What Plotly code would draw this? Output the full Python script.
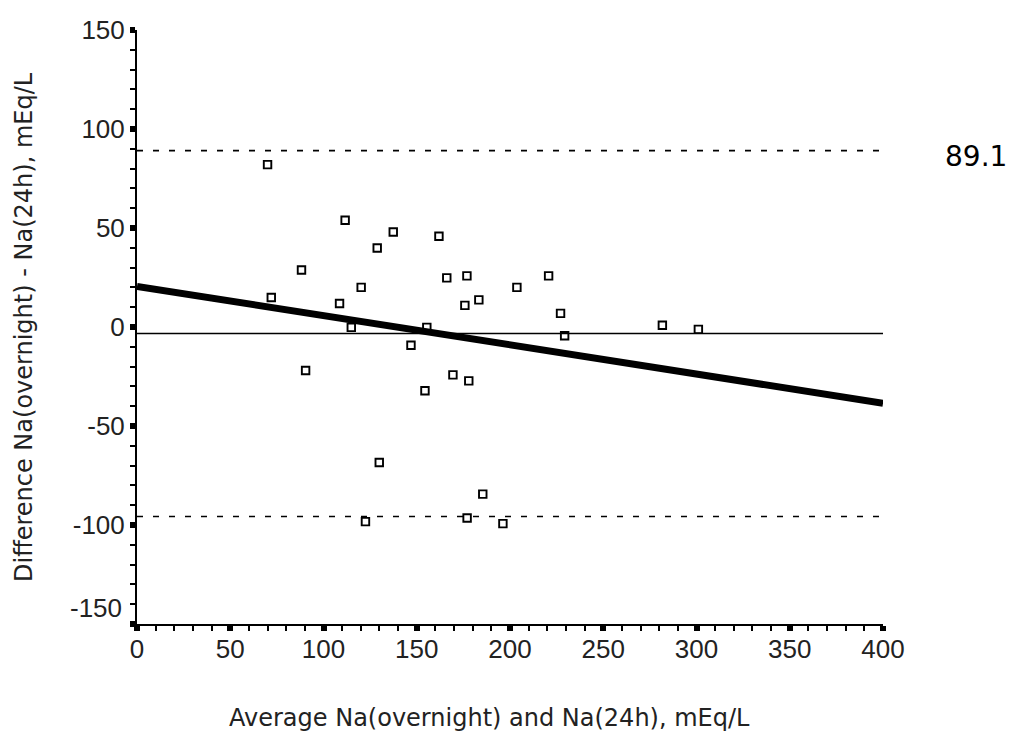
import plotly.graph_objects as go

# Data (Bland-Altman style plot)
avg_na = [70.0, 111.6, 137.4, 128.8, 161.9, 88.2, 120.2, 72.0, 108.6, 166.1,
          176.9, 175.8, 183.3, 203.7, 220.7, 227.1, 229.3, 114.9, 155.4, 146.9,
          90.4, 169.4, 177.9, 154.4, 129.9, 185.4, 122.5, 177.0, 196.2, 281.7,
          301.0]
diff_na = [82.0, 53.9, 48.0, 39.9, 45.8, 28.8, 20.0, 14.9, 11.9, 24.8,
           25.8, 10.9, 13.7, 20.0, 25.8, 6.9, -4.4, -0.2, -0.2, -9.2,
           -22.0, -24.2, -27.2, -32.2, -68.4, -84.4, -98.3, -96.5, -99.3, 0.9,
           -1.2]

mean_diff = -3.3
upper_loa = 89.1
lower_loa = -95.7
line_x = [0, 400]
reg_y = [20.5, -38.5]

x_ticks = [0, 50, 100, 150, 200, 250, 300, 350, 400]
y_ticks = [-150, -100, -50, 0, 50, 100, 150]
y_ticktext = ["", "-100", "-50", "0", "50", "100", "150"]

x_title = "Average Na(overnight) and Na(24h), mEq/L"
y_title = "Difference Na(overnight) - Na(24h), mEq/L"
upper_label = "89.1"

TICK_FONT = dict(family="Liberation Sans, Arial, sans-serif", size=26, color="#222")
TITLE_FONT = dict(family="DejaVu Sans, sans-serif", size=24, color="#222")

fig = go.Figure()

# mean difference line
fig.add_trace(go.Scatter(x=line_x, y=[mean_diff, mean_diff], mode="lines",
                         line=dict(color="black", width=1.6), showlegend=False,
                         hoverinfo="skip"))
# limits of agreement
for v in (upper_loa, lower_loa):
    fig.add_trace(go.Scatter(x=line_x, y=[v, v], mode="lines",
                             line=dict(color="black", width=1.6, dash="6px,10px"),
                             showlegend=False, hoverinfo="skip"))
# points
fig.add_trace(go.Scatter(x=avg_na, y=diff_na, mode="markers",
                         marker=dict(symbol="square-open", size=7.5, color="black",
                                     line=dict(width=1.9, color="black")),
                         showlegend=False))
# regression line
fig.add_trace(go.Scatter(x=line_x, y=reg_y, mode="lines",
                         line=dict(color="black", width=7), showlegend=False,
                         hoverinfo="skip"))

axis_common = dict(showline=True, linewidth=2, linecolor="black", showgrid=False,
                   zeroline=False, ticks="outside", ticklen=5, tickwidth=6,
                   tickcolor="black", tickfont=TICK_FONT,
                   minor=dict(ticks="outside", ticklen=5, tickwidth=1.5,
                              tickcolor="black", dtick=10))

fig.update_xaxes(range=[0, 400], tickmode="array", tickvals=x_ticks,
                 ticktext=[str(t) for t in x_ticks], ticklabelstandoff=-4,
                 **axis_common)
fig.update_yaxes(range=[-150, 150], tickmode="array", tickvals=y_ticks,
                 ticktext=y_ticktext, **axis_common)

annotations = [
    dict(text=x_title, xref="paper", yref="paper", x=0.4725, y=0,
         xanchor="center", yanchor="middle", yshift=-94, showarrow=False,
         font=TITLE_FONT),
    dict(text=y_title, xref="paper", yref="paper", x=0, y=0.5,
         xanchor="center", yanchor="middle", xshift=-113, textangle=-90,
         showarrow=False, font=TITLE_FONT),
    dict(text=upper_label, xref="paper", yref="y", x=1, y=upper_loa,
         xanchor="left", yanchor="top", xshift=60, yshift=13, showarrow=False,
         font=dict(family="DejaVu Sans, sans-serif", size=28, color="black")),
    dict(text="-150", xref="paper", yref="y", x=0, y=-150,
         xanchor="right", yanchor="middle", xshift=-13, yshift=16,
         showarrow=False, font=TICK_FONT),
]

fig.update_layout(width=1017, height=738,
                  margin=dict(l=137, r=134, t=30, b=114),
                  plot_bgcolor="white", paper_bgcolor="white",
                  annotations=annotations, showlegend=False)

fig.write_html("out.html", config={"displayModeBar": False},
               post_script="document.body.style.margin='0';document.body.style.overflow='hidden';")
